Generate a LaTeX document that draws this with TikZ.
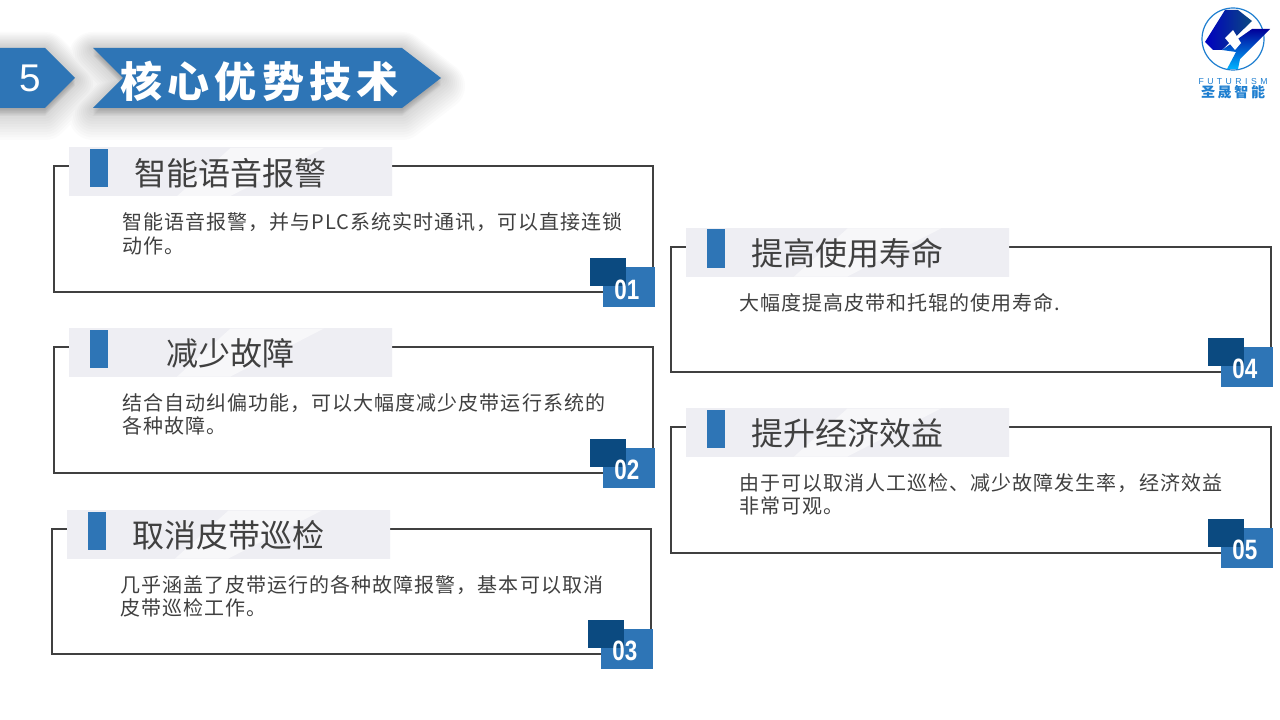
\documentclass[tikz,border=0pt]{standalone}
\usepackage{fontspec}
\setmainfont{Liberation Sans}
\newfontfamily\cjkfont[LetterSpace=5.2]{Noto Sans CJK SC}
\newfontfamily\titlefont{Noto Sans CJK SC}
\newfontfamily\headfont[LetterSpace=12.5]{Noto Sans CJK SC}
\newfontfamily\logofont{Noto Sans CJK SC}
\usetikzlibrary{positioning}
\definecolor{midblue}{HTML}{2E75B6}
\definecolor{darkblue}{HTML}{0B4A80}
\definecolor{inkgray}{HTML}{404040}
\definecolor{logoblue}{HTML}{1F7FD0}
\definecolor{bandgray}{HTML}{EEEEF3}
\definecolor{bandlight}{HTML}{F8F8FA}
\tikzset{
  frame/.style={draw=inkgray,line width=1.5pt,anchor=north west,outer sep=0pt,inner sep=0pt,minimum width=450pt,minimum height=94.5pt},
  band/.style={anchor=north west,xshift=11.25pt,yshift=13.5pt,outer sep=0pt,inner sep=0pt,minimum width=242.25pt,minimum height=36pt,left color=bandgray,middle color=bandlight,right color=bandgray,text=inkgray,text height=22.6pt,text depth=2.9pt,font=\titlefont\fontsize{24}{24}\selectfont,
    path picture={\fill[white,opacity=.55] (path picture bounding box.north) -- ++(70pt,0) -- (path picture bounding box.south) -- ++(-40pt,0) -- cycle;}},
  block/.style={anchor=north west,xshift=15.75pt,yshift=-.75pt,fill=midblue,outer sep=0pt,inner sep=0pt,minimum width=13.5pt,minimum height=28.5pt},
  body/.style={anchor=north west,xshift=51pt,yshift=-35pt,inner sep=0pt,align=left,text=inkgray,font=\cjkfont\fontsize{15}{17.6}\selectfont},
  midtag/.style={anchor=south east,xshift=1.5pt,yshift=-11.25pt,fill=midblue,outer sep=0pt,inner sep=0pt,minimum width=39pt,minimum height=30pt},
  darktag/.style={anchor=north west,xshift=-9.75pt,yshift=6.75pt,fill=darkblue,outer sep=0pt,inner sep=0pt,minimum width=27pt,minimum height=21pt},
  numtag/.style={text=white,inner sep=0pt,transform shape,xscale=.8,xshift=-2pt,yshift=-2pt,font=\bfseries\fontsize{21}{21}\selectfont},
}
\begin{document}
\begin{tikzpicture}[x=.75pt,y=-.75pt]
  \useasboundingbox (0,0) rectangle (1280,720);
  \fill[white] (0,0) rectangle (1280,720);

  % soft shadow of the banners
  \foreach \w in {4,8,...,48} {
    \draw[black,fill=black,opacity=.016,line width=\w*.75pt,line join=round,yshift=-\w*.125pt]
      (-40,48) -- (45,48) -- (75,78) -- (45,108) -- (-40,108) -- cycle
      (93,48) -- (402,48) -- (441,78) -- (402,108) -- (93,108) -- (123,78) -- cycle;
  }

  % banners
  \fill[midblue] (0,48) -- (45,48) -- (75,78) -- (45,108) -- (0,108) -- cycle;
  \fill[midblue] (93,48) -- (402,48) -- (441,78) -- (402,108) -- (93,108) -- (123,78) -- cycle;
  \node[text=white,font=\fontsize{29}{29}\selectfont] (sec_no) at (30,78) {5};
  \node[text=white,font=\headfont\bfseries\fontsize{31.5}{31.5}\selectfont] (sec_title) at (259.5,81) {核心优势技术};

  % logo
  \draw[draw=logoblue,line width=.9pt] (1233,39) circle (31);
  \shade[left color=blue!75!black,right color=darkblue] (1225,10) -- (1238,10) -- (1252,21) -- (1222,50) -- (1213,50) -- (1205,42) -- cycle;
  \shade[top color=blue!60!black,bottom color=cyan!70!blue] (1252,29) -- (1270,29) -- (1240,59) -- (1238,69) -- (1227,69) -- (1236,52) -- (1222,50) -- cycle;
  \fill[white] (1225,38) -- (1233,30) -- (1241,43) -- (1235,50) -- cycle;
  \node[text=logoblue,font=\fontsize{6.5}{6.5}\selectfont] (logo_en) at (1233,82) {F\hspace{2.6pt}U\hspace{2.6pt}T\hspace{2.6pt}U\hspace{2.6pt}R\hspace{2.6pt}I\hspace{2.6pt}S\hspace{2.6pt}M};
  \node[text=logoblue,font=\logofont\bfseries\fontsize{10.5}{10.5}\selectfont] (logo_cn) at (1233,92) {圣\hspace{2pt}晟\hspace{2pt}智\hspace{2pt}能};

  % card 1
  \node[frame,minimum width=449.25pt] (f_1) at (54,166) {};
  \node[band] (b_1) at (f_1.north west) {智能语音报警};
  \node[block] (s_1) at (b_1.north west) {};
  \node[body] (t_1) at (f_1.north west) {智能语音报警，并与PLC系统实时通讯，可以直接连锁\\动作。};
  \node[midtag] (m_1) at (f_1.south east) {};
  \node[darktag] (d_1) at (m_1.north west) {};
  \node[numtag] (n_1) at (m_1) {01};

  % card 2
  \node[frame,minimum width=449.25pt] (f_2) at (54,346.5) {};
  \node[band] (b_2) at (f_2.north west) {减少故障};
  \node[block] (s_2) at (b_2.north west) {};
  \node[body] (t_2) at (f_2.north west) {结合自动纠偏功能，可以大幅度减少皮带运行系统的\\各种故障。};
  \node[midtag] (m_2) at (f_2.south east) {};
  \node[darktag] (d_2) at (m_2.north west) {};
  \node[numtag] (n_2) at (m_2) {02};

  % card 3
  \node[frame,minimum width=449.25pt,minimum height=93.75pt] (f_3) at (52,528.5) {};
  \node[band] (b_3) at (f_3.north west) {取消皮带巡检};
  \node[block] (s_3) at (b_3.north west) {};
  \node[body] (t_3) at (f_3.north west) {几乎涵盖了皮带运行的各种故障报警，基本可以取消\\皮带巡检工作。};
  \node[midtag] (m_3) at (f_3.south east) {};
  \node[darktag] (d_3) at (m_3.north west) {};
  \node[numtag] (n_3) at (m_3) {03};

  % card 4
  \node[frame,minimum height=93.75pt] (f_4) at (671,246.5) {};
  \node[band] (b_4) at (f_4.north west) {提高使用寿命};
  \node[block] (s_4) at (b_4.north west) {};
  \node[body] (t_4) at (f_4.north west) {大幅度提高皮带和托辊的使用寿命.};
  \node[midtag] (m_4) at (f_4.south east) {};
  \node[darktag] (d_4) at (m_4.north west) {};
  \node[numtag] (n_4) at (m_4) {04};

  % card 5
  \node[frame] (f_5) at (671,426.5) {};
  \node[band] (b_5) at (f_5.north west) {提升经济效益};
  \node[block] (s_5) at (b_5.north west) {};
  \node[body] (t_5) at (f_5.north west) {由于可以取消人工巡检、减少故障发生率，经济效益\\非常可观。};
  \node[midtag] (m_5) at (f_5.south east) {};
  \node[darktag] (d_5) at (m_5.north west) {};
  \node[numtag] (n_5) at (m_5) {05};
\end{tikzpicture}
\end{document}
